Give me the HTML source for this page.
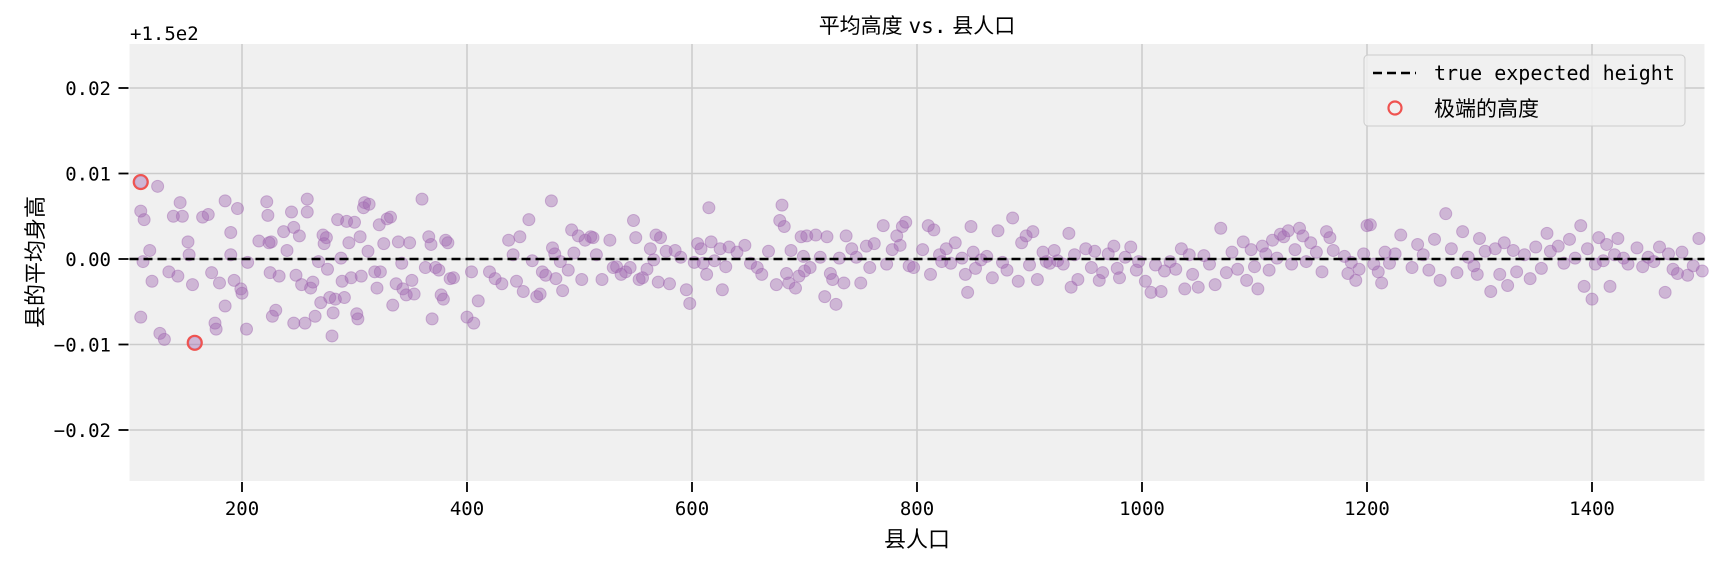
<!DOCTYPE html>
<html><head><meta charset="utf-8">
<style>
html,body{margin:0;padding:0;background:#fff;}
svg{display:block;}
text{font-family:"DejaVu Sans Mono","Liberation Mono","Noto Sans CJK SC",monospace;}
.cjk{font-family:"Liberation Sans","Noto Sans CJK SC",sans-serif;}
</style></head>
<body>
<svg id="chart" width="1716" height="563" viewBox="0 0 1716 563" xmlns="http://www.w3.org/2000/svg">
  <rect x="129.5" y="44" width="1575" height="437" fill="#f0f0f0"/>
  <g id="grid"></g>
  <g id="points"></g>
  <g id="extremes"></g>
  <line id="refline" stroke="#000" stroke-width="2.5" stroke-dasharray="9,5"/>
  <g id="axes"></g>
  <text x="130" y="40" font-size="19">+1.5e2</text>
  <text class="cjk" x="917" y="33" font-size="21" text-anchor="middle">平均高度 <tspan font-family="DejaVu Sans Mono, monospace">vs.</tspan> 县人口</text>
  <text class="cjk" x="917" y="547" font-size="22" text-anchor="middle">县人口</text>
  <text class="cjk" transform="translate(43,262) rotate(-90)" font-size="22" text-anchor="middle">县的平均身高</text>
  <g>
    <rect x="1364" y="55" width="321" height="71" rx="4" fill="#f0f0f0" fill-opacity="0.85" stroke="#cccccc" stroke-width="1"/>
    <line x1="1373" y1="73" x2="1416" y2="73" stroke="#000" stroke-width="2.5" stroke-dasharray="9,5"/>
    <text x="1434" y="80" font-size="20">true expected height</text>
    <circle cx="1395" cy="108" r="6.5" fill="none" stroke="#ef5350" stroke-width="2.2"/>
    <text class="cjk" x="1434" y="116" font-size="21">极端的高度</text>
  </g>
</svg>
<script>
const populations = [110,110,113,112,110,125,118,120,127,131,135,139,143,145,147,152,153,156,158,165,170,173,176,177,180,185,185,190,190,193,196,199,200,204,205,
215,222,223,224,226,225,230,227,233,237,240,244,246,246,248,251,253,256,258,258,261,263,265,268,270,272,273,275,276,278,280,281,283,285,288,289,291,293,295,297,300,
302,303,305,306,308,309,312,313,318,320,322,323,326,329,332,334,337,339,342,343,346,349,351,353,360,363,366,368,369,372,375,377,379,381,383,385,388,
400,404,406,410,420,425,431,437,441,444,447,450,455,458,462,465,467,470,475,476,478,479,483,485,490,493,495,499,
502,505,510,512,515,520,527,530,533,537,541,545,548,550,553,556,560,563,566,568,570,572,577,580,585,590,595,
598,602,605,608,610,613,615,617,620,625,627,630,633,640,647,652,658,662,668,675,678,680,682,684,686,688,692,695,697,699,
700,702,705,710,714,718,720,723,725,728,731,735,737,742,746,750,755,758,762,770,773,778,782,785,787,790,793,797,
805,810,812,815,820,822,826,830,834,840,843,845,848,850,852,857,862,867,872,876,880,885,890,893,897,900,
903,907,912,915,918,922,925,930,935,937,940,943,950,955,958,962,965,970,975,978,980,985,990,995,997,
1003,1008,1012,1017,1020,1025,1030,1035,1038,1042,1045,1050,1055,1060,1065,1070,1075,1080,1085,1090,1093,1097,
1100,1103,1107,1110,1113,1116,1120,1123,1126,1130,1133,1136,1140,1143,1146,1150,1155,1160,1164,1167,1170,1180,1183,1186,1190,1193,1197,
1200,1203,1206,1210,1213,1216,1220,1225,1230,1240,1245,1250,1255,1260,1265,1270,1275,1280,1285,1290,1295,1298,
1300,1305,1310,1314,1318,1322,1325,1330,1333,1340,1345,1350,1355,1360,1363,1370,1375,1380,1385,1390,1393,1396,1400,1403,1406,
1410,1413,1416,1420,1423,1428,1432,1440,1445,1450,1455,1460,1465,1468,1472,1476,1480,1485,1490,1495,1498];
// deviation from 150 in thousandths
const deviations = [9.0,5.6,4.6,-0.3,-6.8,8.5,1.0,-2.6,-8.7,-9.4,-1.5,5.0,-2.0,6.6,5.0,2.0,0.5,-3.0,-9.8,4.9,5.2,-1.6,-7.5,-8.2,-2.8,6.8,-5.5,3.1,0.5,-2.5,5.9,-3.5,-4.0,-8.2,-0.4,
2.1,6.7,5.1,1.9,2.0,-1.6,-6.0,-6.7,-2.0,3.2,1.0,5.5,3.7,-7.5,-1.9,2.7,-3.0,-7.5,7.0,5.5,-3.4,-2.7,-6.7,-0.3,-5.1,2.8,1.8,2.5,-1.2,-4.5,-9.0,-6.3,-4.7,4.6,0.1,-2.6,-4.5,4.4,1.9,-2.2,4.3,
-6.4,-7.0,2.6,-2.0,6.0,6.6,0.9,6.4,-1.5,-3.4,4.0,-1.5,1.8,4.7,4.9,-5.4,-2.9,2.0,-0.5,-3.5,-4.2,1.9,-2.5,-4.1,7.0,-1.0,2.6,1.7,-7.0,-1.0,-1.3,-4.2,-4.7,2.2,1.9,-2.3,-2.2,
-6.8,-1.5,-7.5,-4.9,-1.5,-2.3,-2.9,2.2,0.5,-2.6,2.6,-3.8,4.6,-0.2,-4.4,-4.1,-1.5,-1.9,6.8,1.3,0.6,-2.3,-0.3,-3.7,-1.3,3.4,0.7,2.7,
-2.4,2.2,2.6,2.5,0.5,-2.4,2.2,-1.0,-0.9,-1.8,-1.5,-1.0,4.5,2.5,-2.4,-2.2,-1.2,1.2,-0.1,2.8,-2.7,2.5,0.9,-2.9,1.0,0.2,-3.6,
-5.2,-0.4,1.8,1.2,-0.5,-1.8,6.0,2.0,-0.2,1.2,-3.6,-0.9,1.4,0.8,1.6,-0.5,-1.0,-1.8,0.9,-3.0,4.5,6.3,3.8,-1.7,-2.8,1.0,-3.4,-2.0,2.6,0.3,
-1.4,2.7,-1.0,2.8,0.2,-4.4,2.6,-1.7,-2.4,-5.3,0.1,-2.8,2.7,1.2,0.2,-2.8,1.5,-1.0,1.8,3.9,-0.6,1.1,2.7,1.6,3.8,4.3,-0.8,-1.0,
1.1,3.9,-1.8,3.4,0.5,-0.3,1.2,-0.5,1.9,0.1,-1.8,-3.9,3.8,0.8,-1.1,-0.1,0.3,-2.2,3.3,-0.4,-1.3,4.8,-2.6,1.9,2.7,-0.7,
3.2,-2.4,0.8,-0.3,-0.5,1.0,-0.2,-0.6,3.0,-3.3,0.5,-2.4,1.2,-1.0,0.9,-2.5,-1.6,0.6,1.5,-1.1,-2.2,0.2,1.4,-1.3,-0.3,
-2.6,-3.9,-0.7,-3.8,-1.4,-0.3,-1.2,1.2,-3.5,0.5,-1.8,-3.3,0.4,-0.6,-3.0,3.6,-1.6,0.8,-1.2,2.0,-2.5,1.1,
-0.9,-3.5,1.5,0.6,-1.3,2.2,0.1,2.9,2.6,3.3,-0.6,1.1,3.6,2.7,-0.3,1.9,0.8,-1.5,3.2,2.5,1.0,0.3,-1.7,-0.4,-2.5,-1.2,0.6,
3.9,4.0,-0.6,-1.5,-2.8,0.8,-0.5,0.6,2.8,-1.0,1.7,0.5,-1.3,2.3,-2.5,5.3,1.2,-1.6,3.2,0.2,-0.8,-1.8,
2.4,0.9,-3.8,1.2,-1.8,1.9,-3.1,1.0,-1.5,0.5,-2.3,1.4,-1.1,3.0,0.9,1.5,-0.5,2.3,0.1,3.9,-3.2,1.2,-4.7,-0.6,2.5,
-0.2,1.7,-3.2,0.5,2.4,0.1,-0.6,1.3,-0.9,0.2,-0.3,1.4,-3.9,0.6,-1.2,-1.7,0.8,-1.9,-0.8,2.4,-1.4];
const extremePopulations = [110, 158];
const extremeDeviations = [9.0, -9.8];
const xTicks = [200,400,600,800,1000,1200,1400];
const yTicks = [0.02,0.01,0.00,-0.01,-0.02];
const yTickLabels = ["0.02","0.01","0.00","\u22120.01","\u22120.02"];
const trueOffset = 0.0;

const NS="http://www.w3.org/2000/svg";
const L=129.5,R=1704.5,T=44,B=481;
const xMin=100,xMax=1500,yMin=-0.025965,yMax=0.025146;
const sx=v=>L+(v-xMin)/(xMax-xMin)*(R-L);
const sy=v=>B-(v-yMin)/(yMax-yMin)*(B-T);
function mk(tag,attrs,parent){const e=document.createElementNS(NS,tag);for(const k in attrs)e.setAttribute(k,attrs[k]);parent.appendChild(e);return e;}
const grid=document.getElementById('grid'),axes=document.getElementById('axes');
xTicks.forEach(t=>{
  const g=mk('line',{x1:sx(t),x2:sx(t),y1:T,y2:B,stroke:'#cbcbcb','stroke-width':1.5},grid);
  
  
  const tk=mk('line',{x1:sx(t),x2:sx(t),y1:B+1,y2:B+11,stroke:'#000','stroke-width':1.8},axes);
  
  
  const lb=mk('text',{x:sx(t),y:515,'font-size':19,'text-anchor':'middle'},axes);
  lb.textContent=String(t);
  
  
});
yTicks.forEach((t,i)=>{
  const g=mk('line',{x1:L,x2:R,y1:sy(t),y2:sy(t),stroke:'#cbcbcb','stroke-width':1.5},grid);
  
  
  const tk=mk('line',{x1:L-11,x2:L-1,y1:sy(t),y2:sy(t),stroke:'#000','stroke-width':1.8},axes);
  
  
  const lb=mk('text',{x:111,y:sy(t)+7,'font-size':19,'text-anchor':'end'},axes);
  lb.textContent=yTickLabels[i];
  
  
});
const pts=document.getElementById('points');
populations.forEach((p,i)=>{
  const c=mk('circle',{cx:sx(p),cy:sy(deviations[i]/1000),r:6,fill:'#a066b0','fill-opacity':0.42,stroke:'#a066b0','stroke-opacity':0.45,'stroke-width':1},pts);
  
  
});
const ex=document.getElementById('extremes');
extremePopulations.forEach((p,i)=>{
  const c=mk('circle',{cx:sx(p),cy:sy(extremeDeviations[i]/1000),r:7,fill:'none',stroke:'#ef5350','stroke-width':2.2},ex);
  
  
});
const rl=document.getElementById('refline');
rl.setAttribute('x1',L);rl.setAttribute('x2',R);
rl.setAttribute('y1',sy(trueOffset));rl.setAttribute('y2',sy(trueOffset));
</script>
</body></html>
